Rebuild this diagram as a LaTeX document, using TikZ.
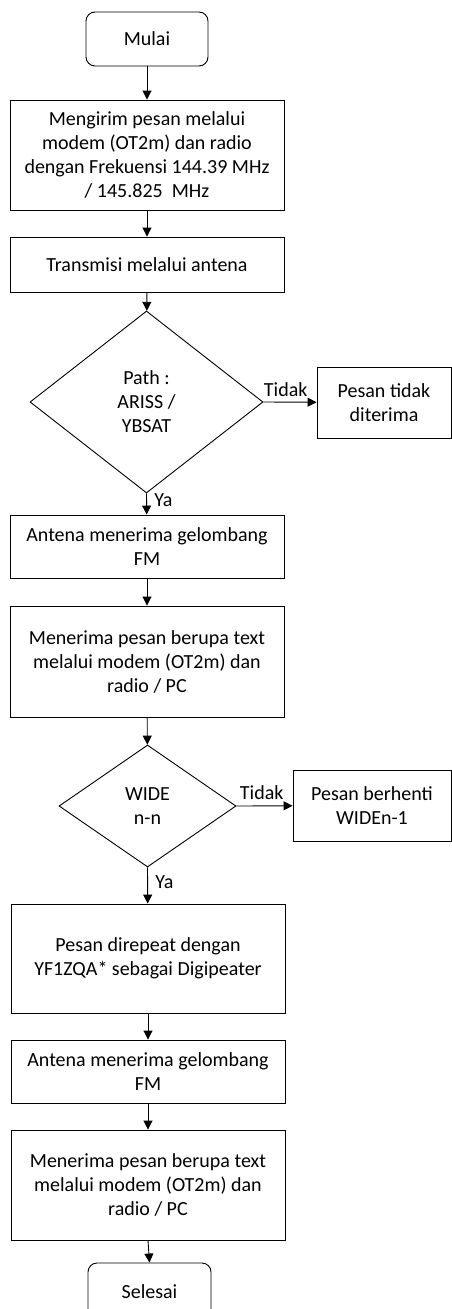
\documentclass[tikz,border=0pt]{standalone}
\usepackage{fontspec}
\setmainfont{Carlito}
\usetikzlibrary{shapes.geometric,arrows.meta}

\tikzset{
  proses/.style={draw, line width=0.9pt, align=center, minimum width=274pt, inner sep=0pt},
  terminal/.style={draw, rounded corners=9pt, line width=0.9pt, align=center, inner sep=0pt},
  keputusan/.style={draw, diamond, line width=0.9pt, align=center, inner sep=0pt},
  panah/.style={line width=0.9pt, -{Triangle[length=9pt,width=9pt]}},
}

\begin{document}
\begin{tikzpicture}[x=1pt,y=-1pt,font=\fontsize{20}{24}\selectfont]

      % page size
      \useasboundingbox (0,0) rectangle (452,1309);
      \clip (0,0) rectangle (452,1309);

      % draw nodes
      \node[terminal, minimum width=122pt, minimum height=54pt] (mulai) at (147,39) {Mulai};
      \node[proses, minimum height=110pt] (kirim) at (147,155) {Mengirim pesan melalui\\modem (OT2m) dan radio\\dengan Frekuensi 144.39 MHz\\/ 145.825\ \ MHz};
      \node[proses, minimum height=55pt] (transmisi) at (147,264.5) {Transmisi melalui antena};
      \node[keputusan, minimum width=233pt, minimum height=182pt] (path) at (146.5,402) {Path :\\ARISS /\\YBSAT};
      \node[proses, minimum width=134pt, minimum height=71pt] (tolak) at (384,402.5) {Pesan tidak\\diterima};
      \node[proses, minimum height=63pt] (antena1) at (147,546.5) {Antena menerima gelombang\\FM};
      \node[proses, minimum height=111pt] (terima1) at (147,661.5) {Menerima pesan berupa text\\melalui modem (OT2m) dan\\radio / PC};
      \node[keputusan, minimum width=177pt, minimum height=122pt] (wide) at (147.5,806) {WIDE\\n-n};
      \node[proses, minimum width=158pt, minimum height=71pt] (henti) at (372,805.5) {Pesan berhenti\\WIDEn-1};
      \node[proses, minimum height=109pt] (ulang) at (148,958.5) {Pesan direpeat dengan\\YF1ZQA* sebagai Digipeater};
      \node[proses, minimum height=63pt] (antena2) at (148,1071.5) {Antena menerima gelombang\\FM};
      \node[proses, minimum height=110pt] (terima2) at (148,1185) {Menerima pesan berupa text\\melalui modem (OT2m) dan\\radio / PC};
      \node[terminal, minimum width=123pt, minimum height=58pt] (selesai) at (149.5,1292) {Selesai};

      % draw arrows
      \draw[panah] (mulai) -- (kirim);
      \draw[panah] (kirim) -- (transmisi);
      \draw[panah] (transmisi) -- (path);
      \draw[panah] (path.east) -- node[pos=0.42, above=2pt] {Tidak} (tolak);
      \draw[panah] (path.south) -- node[pos=0.3, right=4pt] {Ya} (antena1);
      \draw[panah] (antena1) -- (terima1);
      \draw[panah] (terima1) -- (wide);
      \draw[panah] (wide.east) -- node[pos=0.45, above=2pt] {Tidak} (henti);
      \draw[panah] (wide.south) -- node[pos=0.4, right=4pt] {Ya} (ulang);
      \draw[panah] (ulang) -- (antena2);
      \draw[panah] (antena2) -- (terima2);
      \draw[panah] (terima2.south) -- (selesai.north);

     \end{tikzpicture}
\end{document}
